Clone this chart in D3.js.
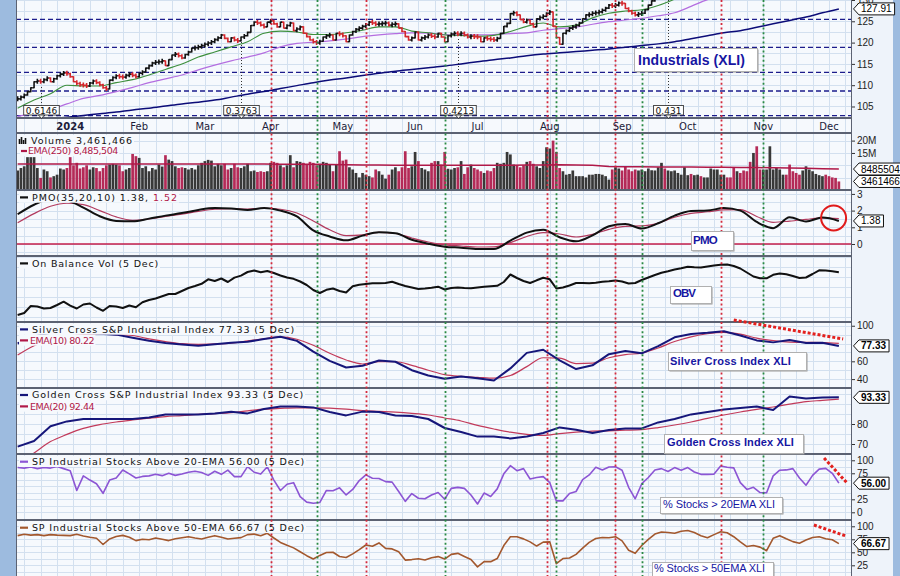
<!DOCTYPE html>
<html><head><meta charset="utf-8">
<script src="https://cdn.jsdelivr.net/npm/d3@7/dist/d3.min.js"></script>
<style>
html,body{margin:0;padding:0;background:#9dbbdf;}
svg{display:block;font-family:"DejaVu Sans",Verdana,sans-serif;}
</style></head><body>
<svg id="chart" width="900" height="576"></svg>
<script>
// ================= DATA (trading-day index 0 = 8 Dec 2023 ... 250 = 5 Dec 2024) =================
const monthLabels = ["2024","Feb","Mar","Apr","May","Jun","Jul","Aug","Sep","Oct","Nov","Dec"];
const monthIdx    = [16,37,57,77,99,121,140,162,184,204,227,247];
const redSignalIdx   = [77,106,161,182,214];
const greenSignalIdx = [91,130,164,190,227];
const priceTicks = [105,110,115,120,125,130];
const volTicks = [15,20];
const pmoTicks = [0,1,2,3];
const silverTicks = [40,60,100];
const goldenTicks = [70,80];
const pct20Ticks = [0,25,75,100];
const pct50Ticks = [25,50,75,100];
const priceLevels = [125.47,118.9,113.03,108.64,102.84];
const divIdx = [7,68,134,198];
const divLabels = ["0.6146","0.3763","0.4213","0.431"];

// daily closes XLI
const close = [
106.8,107.2,107.7,108.5,109.4,110.8,111.0,110.8,111.3,111.7,
110.8,111.5,112.2,112.6,112.9,112.7,112.0,110.8,110.4,110.1,
110.0,109.8,110.5,111.0,110.6,110.1,109.4,109.1,111.2,111.8,
112.2,112.0,111.9,112.3,112.6,112.3,112.0,112.8,113.1,114.0,
114.6,115.2,115.4,115.5,115.7,114.6,116.0,117.1,117.3,116.9,
116.4,117.2,117.8,118.7,118.8,119.0,119.3,119.6,119.9,120.2,
120.7,121.1,121.8,121.0,120.2,121.1,120.6,120.4,121.3,121.6,
122.4,124.0,124.8,124.6,124.1,123.7,124.8,125.1,124.4,123.7,
124.8,123.4,124.0,124.6,122.8,123.2,123.7,122.2,121.4,120.6,
120.2,119.9,120.3,121.3,121.6,121.8,120.6,122.2,122.0,121.6,
120.2,121.8,122.6,123.1,123.4,123.8,124.2,124.8,124.6,124.3,
124.4,124.5,124.6,124.1,124.3,124.4,123.4,122.6,121.4,120.6,
121.1,122.5,120.6,121.1,121.3,121.8,121.5,121.3,122.2,121.3,
120.2,121.6,122.0,122.2,122.0,122.2,121.8,121.3,121.5,121.4,
121.3,120.2,121.1,120.9,120.8,120.6,121.0,122.2,123.8,124.5,
126.8,127.0,126.5,125.4,124.8,125.3,124.4,123.7,125.6,125.9,
126.2,126.9,127.2,123.8,121.2,119.6,122.2,122.8,123.4,123.7,
124.0,124.6,125.6,126.5,126.6,126.9,127.0,127.2,127.6,128.1,
128.8,128.6,128.8,129.3,129.2,128.0,127.4,126.9,126.5,126.7,
126.9,127.7,128.8,129.8,130.6,131.2,131.5,131.0,132.4,132.8,
133.0,133.5,134.0,134.5,135.0,134.2,134.8,135.5,135.0,136.2,
136.5,137.4,138.2,138.6,139.2,139.5,138.8,138.2,137.4,137.8,
136.6,136.0,135.5,134.8,135.6,134.0,133.4,134.2,134.8,137.5,
138.5,139.6,140.8,141.5,140.2,139.6,139.0,138.5,138.0,139.2,
140.4,141.0,141.5,142.0,142.8,143.0,142.4,141.8,141.0,140.2,139.6];

// daily volume, millions
const volume = [
7.9,8.9,9.6,13.3,13.3,13.3,8.9,4.9,8.3,7.6,
5.1,5.6,6.2,8.7,8.3,8.9,13.3,10,11,8.7,
9.2,10,8.3,9.2,8.9,7.6,8.9,10,10.3,10.6,
10.3,10,7.6,8.3,8.9,14.6,13.7,13,8.9,9.6,
7.6,8.9,8.3,10.3,9.5,14.1,12.3,11.7,9.6,8.9,9.2,
8.9,8.3,8.9,8.3,10,11,11.7,12.2,11.9,9.6,
10.6,10,10.6,8.3,8.9,10.6,9.2,8.9,9.6,10.6,
7.6,7.9,7.3,7.6,7.3,7.6,11,11.4,11,10,
9.2,10,14.1,9.2,11.7,11.4,11,10.5,11.4,11,10,
10.6,11.4,11,10.3,7.6,10.3,15.7,11.9,12.3,9.2,
8.3,6.9,5.1,6.9,6.2,5.6,5.1,8.3,7.6,6.2,
4.6,6.2,8.3,9.2,7.6,9.2,15.7,8.9,9.6,15.4,
11.7,8.9,8.3,7.6,11,11.7,11.7,10.3,15.4,8.6,
8.3,8.9,9.2,11.7,6.5,9.2,10.3,8.9,8.3,7.6,
6.9,7.9,7.6,8.9,11,10.6,11,15.4,14.4,10.3,
10,9.2,10,11.4,11.7,10.6,9.6,8.9,11.7,17.3,
16.8,20,15.4,8.9,7.6,6.2,6.5,7.9,5.6,5.6,
5.6,5.1,6.2,6.2,6.5,6.5,6.2,5.6,4.2,8.3,
9.2,8.7,7.9,9.6,8.3,7.6,8.3,7.9,8.3,7.6,
8.7,8.0,7.9,9.2,11,8.7,7.9,7.6,7.9,6.9,6.2,
9.2,6,6.5,6,6.2,5.6,5.1,5.1,8.7,8.3,
8.3,6.2,6.2,5.1,5.1,8.9,7.6,6.9,7.9,7.6,
11.4,15,17.7,8.3,8.3,8.3,17.7,8.3,8.9,8.3,
6.2,6.2,10.3,7.6,6.9,6.2,7.9,9.6,8.3,7.6,
6.5,6,5.6,6.2,5.6,5.1,4.9,3.46];

// smooth series, every 5th trading day (0,5,...,250)
const ema20Price = [104.6,106.5,108.0,110.0,109.8,109.8,110.6,111.3,112.4,113.7,115.0,116.6,117.8,119.0,120.2,122.2,122.7,122.5,121.9,121.9,122.3,122.9,123.7,123.7,122.7,122.3,121.8,121.7,121.5,121.7,122.6,123.8,124.6,123.7,124.1,125.8,126.9,127.4,127.7,128.7,130.2,132.0,133.8,135.8,136.5,135.8,136.2,138.0,139.0,140.5,140.8];
const ma50Price  = [102.7,103.4,104.3,105.6,106.9,107.6,108.5,109.5,110.6,111.5,112.4,113.6,114.7,115.7,116.6,117.6,119.0,119.8,120.1,120.4,120.8,121.4,121.8,122.1,122.3,122.2,121.9,121.8,121.8,121.9,122.1,122.3,122.9,123.3,123.6,124.3,124.9,125.3,125.7,126.3,127.0,128.5,130.1,131.2,132.2,133.0,134.0,135.0,136.0,137.0,137.8];
const ma200Price = [101.4,101.8,102.1,102.5,102.9,103.3,103.7,104.2,104.6,105.1,105.6,106.0,106.5,107.2,107.9,108.5,109.2,109.9,110.6,111.2,111.7,112.3,112.8,113.3,113.7,114.1,114.5,115.0,115.5,116.0,116.4,116.9,117.3,117.6,117.9,118.2,118.5,118.9,119.3,119.7,120.2,120.9,121.6,122.3,122.8,123.6,124.4,125.2,126.0,127.0,127.91];
const volEma250  = [10.5,10.5,10.5,10.5,10.5,10.5,10.5,10.5,10.5,10.5,10.5,10.5,10.5,10.5,10.5,10.5,10.4,10.4,10.4,10.3,10.2,10.1,10.1,10.0,10.0,10.0,10.0,10.0,10.0,10.0,10.0,10.1,10.1,10.2,10.1,10.0,9.5,9.4,9.4,9.3,9.3,9.3,9.2,9.2,9.1,9.1,9.0,8.9,8.8,8.6,8.4855];
const pmo        = [1.78,2.35,2.7,2.6,2.18,1.66,1.38,1.36,1.52,1.70,1.85,2.04,2.15,2.13,2.04,2.15,2.0,1.65,0.82,0.45,0.22,0.5,0.70,0.65,0.25,0.02,-0.16,-0.22,-0.3,-0.3,0.2,0.68,0.85,0.4,0.16,0.52,1.06,1.2,0.93,1.24,1.70,1.97,2.0,2.15,2.0,1.32,0.95,1.6,1.35,1.58,1.38];
const pmoSignal  = [1.27,1.82,2.26,2.44,2.36,2.0,1.62,1.42,1.5,1.65,1.79,1.95,2.08,2.12,2.09,2.14,2.08,1.86,1.38,0.85,0.5,0.55,0.7,0.63,0.36,0.12,-0.05,-0.12,-0.18,-0.17,0.08,0.45,0.68,0.6,0.42,0.58,0.88,1.06,1.08,1.25,1.6,1.83,1.93,2.04,2.06,1.65,1.3,1.37,1.47,1.57,1.52];
const silverCross = [80,88,92,94,92,91,90,86.5,83,80.7,79,77.6,79.2,81,82,85,87.7,83,70.8,60.5,53,55,61,59.5,50,44,40.5,43,41,38.5,52,69.5,73,61,51.3,55.5,68,71.5,69,77,87,90.8,92,93.8,89,83.5,81.3,84,80.5,80.8,77.33];
const silverEma10 = [67,77.5,84,88,90,90.5,90,89,85.2,82.2,79.8,79.1,79.5,80.4,82.9,85.4,87.4,84.8,78,69,61.5,57,59.5,59.5,55.5,50,45,43,42,41,44,54,64,63.5,57.5,58,64,67.5,69.3,75,82.3,87.5,91,92.5,90.5,86,83.2,81.6,81.3,81.1,80.22];
const goldenCross = [68.7,71.5,78.9,81.3,82.5,82.5,82.5,82.5,83.3,84.8,84.8,84.8,85.2,86.1,85.3,87.5,88.7,88.7,88.3,86,84.3,86.2,86,84.2,84,82.5,78,76,73.7,73.7,72.8,73.7,75.5,78.3,77.1,75.5,77,77.8,77.8,80.8,82.5,84.8,86,87.3,88,88.7,87,93.7,92.8,93.3,93.33];
const goldenEma20 = [60,65.5,71.2,74.8,77.8,79.7,81,82,82.9,83.7,84.2,84.8,85.2,85.7,86.6,87.4,87.8,88.1,88.1,87.9,87.4,86.7,86.3,85.9,85.3,84.5,83,81.5,79.3,77.5,75.9,74.8,74.3,75.2,75.9,76.4,76.6,76.9,77.2,78.2,79.5,81,82.8,84.5,86,87.3,88.5,89.9,91.2,91.8,92.44];

// jagged series, every 2nd trading day (0,2,...,250)
const obv = [7,9,16,15.5,13.5,14,17,20.3,16.3,13.5,
17.5,18.5,14.5,11.2,16,15.5,14,16.5,14.8,19.7,
22,23.5,25.7,28,28,31,34,36,38.2,42.7,
41,43.5,40,44.4,46.4,50,51.5,49.8,51,49,
46.5,44.5,43.2,40.5,37,32,29,32.2,33.5,31,
29.5,35.7,37.2,38,38.7,38.7,39,40.2,38,36,
34.5,33,33.5,34.2,35.3,32.5,34,34.5,34,33.7,
34.5,35.2,35.7,36.2,40,47.5,44,41,39,41.7,
44.2,42.7,33.5,34.5,36.5,39,39,38.7,39.3,40.3,
40.7,41.5,40.5,38.5,39,42,44.5,47,49.2,50.7,
52.5,53.7,55.3,54.7,54.5,55.5,56.5,57.3,57.5,56,
53.5,49.5,45.5,43.7,43.7,47.2,48.5,47.7,46,44,
44.5,48,51.7,51.5,50.7,49.7];
const pctAbove20 = [86,85,87,84,86,85,88,84,80,42,
70,62,55,36.5,62,66,81.4,74,66,69,
70,73,70.5,75,71,73.5,77,79,76.5,71,
79,73,81,68.6,68.6,87.8,77,73.5,87.5,62,
42,54,57,30,19.5,17.3,19,42,41.5,47,
33.3,44,61,72,65.4,65,59,58,40,21,
36,27,26,33.3,38,25,46,48,46,33.3,
16,37,30.5,45,74,89.7,80,84,64,67,
68.6,57,22,22,36,40,63,71.8,86.5,81.4,
87,87.5,81,48,26,55,67,81.4,84,78.5,
86,81,86,77.5,73,73,73.5,89,86.5,85.5,
57,44,48,38,37.5,70,81,81.5,84,66,
52,71,83,84.5,75,56];
const pctAbove50 = [82,84.6,83,84,82,84,83,82.5,82,84.6,
81.5,79,77,65,75.6,80.5,82.5,79,72.5,75,
74,77.5,75,72.5,76,78,80,77.5,75.6,79,
82,79,75.6,77,78.2,84,85,82,86.5,77.5,
69,63.5,58.5,51,43.5,37,44,49.5,50,42,
40,47,55,64,61.5,68,57.5,56.5,51,35,
36,37.5,35.3,39.5,41.7,37,46,48,42,36,
22,32,32,38,63,80,80,75.8,70,62,
69.5,70,28,38,39,46,58,69,76.5,78.5,
78,80,72,54,48,63,75,85,89,88,
86.5,90.5,92,88,82,78,84,89.5,87.5,80,
70,61,63,60,53,76.9,82,76,70.5,67.5,
73.5,78.5,80,76,74,66.67];

// ================= LAYOUT =================
const idx5 = d3.range(0, 251, 5), idx2 = d3.range(0, 251, 2);
[ema20Price,ma50Price,ma200Price,volEma250,pmo,pmoSignal,silverCross,silverEma10,goldenCross,goldenEma20].forEach((a,k)=>{ if(a.length!==idx5.length) throw new Error("len5 "+k+" "+a.length); });
[obv,pctAbove20,pctAbove50].forEach((a,k)=>{ if(a.length!==idx2.length) throw new Error("len2 "+k+" "+a.length); });
if (close.length!==251||volume.length!==251) throw new Error("daily "+close.length+" "+volume.length);

const PLOT_BG="#f6f9fd", GRID="#d3e0ef", FRAME="#5c6272";
const X0=16, X1=852;
const x = d3.scaleLinear().domain([-0.5, 254]).range([X0, X1]);
const weekIdx = d3.range(2, 254, 5);

const svg = d3.select("#chart");
svg.append("rect").attr("width",900).attr("height",576).attr("fill","#9dbbdf");
svg.append("rect").attr("x",X0).attr("y",0).attr("width",893-X0).attr("height",576).attr("fill","#eef3fa");
const defs = svg.append("defs");
const base = svg.append("g"), sigL = svg.append("g"), topL = svg.append("g");

const P = {
  price:{top:-30,bottom:118,domain:[102.3,137.04],hgrid:d3.range(102.5,137.6,2.5)},
  band:{top:118,bottom:133},
  vol:{top:133,bottom:190,domain:[0,23.08],hgrid:[5,10,15,20]},
  pmo:{top:190,bottom:256,domain:[-0.719,3.234],hgrid:d3.range(-0.5,3.3,0.5)},
  obv:{top:256,bottom:322,domain:[0,66],hgrid:d3.range(5,66,10)},
  silver:{top:322,bottom:388,domain:[30,104.2],hgrid:d3.range(40,101,10)},
  golden:{top:388,bottom:454,domain:[65,98],hgrid:d3.range(70,96,5)},
  p20:{top:454,bottom:520,domain:[-14.8,112.1],hgrid:d3.range(0,101,12.5)},
  p50:{top:520,bottom:586,domain:[-14.8,112.1],hgrid:d3.range(0,101,12.5)}
};
const px = v => Math.round(v)+0.5;

Object.entries(P).forEach(([k,p])=>{
  const id="clip_"+k;
  defs.append("clipPath").attr("id",id).append("rect").attr("x",X0).attr("y",p.top).attr("width",X1-X0).attr("height",p.bottom-p.top);
  const g = base.append("g");
  g.append("rect").attr("x",X0).attr("y",p.top).attr("width",X1-X0).attr("height",p.bottom-p.top).attr("fill",PLOT_BG);
  const c = g.append("g").attr("clip-path",`url(#${id})`);
  c.selectAll("line.vg").data(weekIdx).join("line").attr("class","vg")
    .attr("x1",d=>px(x(d))).attr("x2",d=>px(x(d))).attr("y1",p.top).attr("y2",p.bottom).attr("stroke",GRID);
  if (p.domain){
    p.y = d3.scaleLinear().domain(p.domain).range([p.bottom,p.top]);
    c.selectAll("line.hg").data(p.hgrid).join("line").attr("class","hg")
      .attr("x1",X0).attr("x2",X1).attr("y1",d=>px(p.y(d))).attr("y2",d=>px(p.y(d))).attr("stroke",GRID);
  }
  p.g = c.append("g");
  p.legendBg = g.append("g");
});

function lineOf(p, idx, vals, curve){
  return d3.line().x((d,j)=>x(idx[j])).y(d=>p.y(d)).curve(curve||d3.curveMonotoneX)(vals);
}
function drawLine(p, idx, vals, color, w, curve){
  p.g.append("path").attr("d",lineOf(p,idx,vals,curve)).attr("fill","none").attr("stroke",color).attr("stroke-width",w).attr("stroke-linejoin","round");
}

// ---------- PRICE ----------
const pp = P.price;
priceLevels.forEach(v=> pp.g.append("line").attr("x1",X0).attr("x2",X1).attr("y1",pp.y(v)).attr("y2",pp.y(v))
  .attr("stroke","#1c1c8c").attr("stroke-width",1.3).attr("stroke-dasharray","5,3"));
drawLine(pp, idx5, ma200Price, "#0c0c78", 1.5);
drawLine(pp, idx5, ma50Price, "#b46ee0", 1.2);
drawLine(pp, idx5, ema20Price, "#3d8f3d", 1.1);
divIdx.forEach((d,i)=>{
  const cx = px(x(d));
  const hi = pp.y(Math.max(close[d], close[d-1]));
  pp.g.append("line").attr("x1",cx).attr("x2",cx).attr("y1",106).attr("y2",hi+4)
    .attr("stroke","#333").attr("stroke-width",1).attr("stroke-dasharray","1,2");
});
close.forEach((c,i)=>{
  const o = i ? close[i-1] : c;
  const up = c >= o;
  let y1 = pp.y(Math.max(o,c)), y2 = pp.y(Math.min(o,c));
  if (y2-y1 < 4){ const m=(y1+y2)/2; y1=m-2; y2=m+2; }
  const xc = x(i);
  pp.g.append("path").attr("d",`M${xc},${y1-0.5}V${y2+0.5}M${xc-1.7},${pp.y(o)}H${xc}M${xc},${pp.y(c)}H${xc+1.7}`)
    .attr("stroke", up?"#111":"#d4262c").attr("stroke-width",1.6).attr("fill","none");
});

// ---------- VOLUME ----------
const pv = P.vol;
volume.forEach((v,i)=>{
  const up = i===0 || close[i] >= close[i-1];
  pv.g.append("rect").attr("x",x(i)-1.35).attr("width",2.7).attr("y",pv.y(v)).attr("height",pv.y(0)-pv.y(v))
    .attr("fill", up?"#383838":"#b42a57");
});
drawLine(pv, idx5, volEma250, "#b01848", 1.5, d3.curveLinear);

// ---------- PMO ----------
const pm = P.pmo;
pm.g.append("line").attr("x1",X0).attr("x2",X1).attr("y1",pm.y(0)).attr("y2",pm.y(0)).attr("stroke","#c41e4a").attr("stroke-width",1.5);
drawLine(pm, idx5, pmoSignal, "#b23a5e", 1.2);
drawLine(pm, idx5, pmo, "#111", 2);

// ---------- OBV ----------
drawLine(P.obv, idx2, obv, "#111", 2, d3.curveLinear);

// ---------- SILVER / GOLDEN ----------
drawLine(P.silver, idx5, silverEma10, "#c23a5a", 1.2);
drawLine(P.silver, idx5, silverCross, "#16167a", 2, d3.curveLinear);
drawLine(P.golden, idx5, goldenEma20, "#c23a5a", 1.2);
drawLine(P.golden, idx5, goldenCross, "#16167a", 2, d3.curveLinear);

// ---------- % ABOVE ----------
drawLine(P.p20, idx2, pctAbove20, "#8c55d4", 1.6, d3.curveLinear);
drawLine(P.p50, idx2, pctAbove50, "#a3582e", 1.6, d3.curveLinear);

// ---------- FRAMES + SIGNAL LINES ----------
Object.entries(P).forEach(([k,p])=>{
  sigL.append("rect").attr("x",X0+0.5).attr("y",p.top+0.5).attr("width",X1-X0-1).attr("height",p.bottom-p.top-1)
    .attr("fill","none").attr("stroke",FRAME).attr("stroke-width",1);
});
redSignalIdx.forEach(i=> sigL.append("line").attr("x1",px(x(i))).attr("x2",px(x(i))).attr("y1",0).attr("y2",576)
  .attr("stroke","#d42a3c").attr("stroke-width",1.8).attr("stroke-dasharray","2,2.6"));
greenSignalIdx.forEach(i=> sigL.append("line").attr("x1",px(x(i))).attr("x2",px(x(i))).attr("y1",0).attr("y2",576)
  .attr("stroke","#2a8a44").attr("stroke-width",1.8).attr("stroke-dasharray","2,2.6"));

// ---------- LEGENDS ----------
function legend(p, y, dashColor, parts, width, tx, d0, d1){
  tx = tx ?? 32; d0 = d0 ?? 20; d1 = d1 ?? 28;
  const t = topL.append("text").attr("x",tx).attr("y",y).attr("font-size",9.5).attr("fill","#111");
  parts.forEach(pt=> t.append("tspan").attr("fill",pt.c||"#111").text(pt.t));
  const nat = t.node().getComputedTextLength();
  const n = parts.map(q=>q.t).join("").length;
  t.attr("letter-spacing", ((width-nat)/n).toFixed(3));
  const bb = t.node().getBBox();
  p.legendBg.append("rect").attr("x",d0-1).attr("y",bb.y).attr("width",bb.x+bb.width-d0+2).attr("height",bb.height).attr("fill",PLOT_BG);
  if (dashColor) topL.append("line").attr("x1",d0).attr("x2",d1).attr("y1",y-3.3).attr("y2",y-3.3).attr("stroke",dashColor).attr("stroke-width",2.2);
}
const CR="#b01848";
legend(P.vol, 144, null, [{t:"Volume 3,461,466"}], 102, 31, 18, 27);
[[5,19.5],[7,21.5],[4,23.5],[6,25.5]].forEach(b=> topL.append("rect").attr("x",b[1]-0.8).attr("y",144-b[0]).attr("width",1.6).attr("height",b[0]).attr("fill","#111"));
legend(P.vol, 154.3, CR, [{t:"EMA(250) 8,485,504",c:CR}], 90, 28, 21, 27);
legend(P.pmo, 200.7, "#111", [{t:"PMO(35,20,10) 1.38, "},{t:"1.52",c:CR}], 146);
legend(P.obv, 266.7, "#111", [{t:"On Balance Vol (5 Dec)"}], 127);
legend(P.silver, 332.7, "#16167a", [{t:"Silver Cross S&P Industrial Index 77.33 (5 Dec)"}], 263);
legend(P.silver, 343.7, CR, [{t:"EMA(10) 80.22",c:CR}], 64, 30);
legend(P.golden, 398.3, "#16167a", [{t:"Golden Cross S&P Industrial Index 93.33 (5 Dec)"}], 272);
legend(P.golden, 409.7, CR, [{t:"EMA(20) 92.44",c:CR}], 64, 30);
legend(P.p20, 465, "#8c55d4", [{t:"SP Industrial Stocks Above 20-EMA 56.00 (5 Dec)"}], 273);
legend(P.p50, 531, "#a3582e", [{t:"SP Industrial Stocks Above 50-EMA 66.67 (5 Dec)"}], 273);

// ---------- MONTH LABELS ----------
monthIdx.forEach((d,i)=> topL.append("text").attr("x",x(d)).attr("y",130).attr("text-anchor","middle")
  .attr("font-size",10).attr("font-weight",i===0?"bold":"normal").attr("fill","#1c1c3a").text(monthLabels[i]));

// ---------- RIGHT AXES ----------
function rightAxis(p, ticks, fmt){
  const a = topL.append("g").attr("transform",`translate(${X1},0)`)
    .call(d3.axisRight(p.y).tickValues(ticks).tickSize(3).tickPadding(2).tickFormat(fmt||(d=>d)));
  a.select(".domain").remove();
  a.attr("font-family","Liberation Sans, Arial, sans-serif").attr("font-size",10);
  a.selectAll("text").attr("fill","#222");
  a.selectAll("line").attr("stroke","#333");
}
rightAxis(P.price, priceTicks);
rightAxis(P.vol, volTicks, d=>d+"M");
rightAxis(P.pmo, pmoTicks);
rightAxis(P.silver, silverTicks);
rightAxis(P.golden, goldenTicks);
rightAxis(P.p20, pct20Ticks);
rightAxis(P.p50, pct50Ticks);

// ---------- VALUE TAGS ----------
function tag(yc, text, bold){
  const g = topL.append("g");
  const t = g.append("text").attr("x",861).attr("y",yc+3.5).attr("font-family","Liberation Sans, Arial, sans-serif")
    .attr("font-size",10).attr("font-weight",bold?"bold":"normal").attr("fill","#000").text(text);
  const w = t.node().getComputedTextLength();
  g.insert("path","text").attr("d",`M853.5,${yc}L859,${yc-6}H${864+w}V${yc+6}H859Z`).attr("fill","#fff").attr("stroke","#111").attr("stroke-width",1);
}
tag(P.price.y(ma200Price[ma200Price.length-1]), "127.91");
tag(P.vol.y(volEma250[volEma250.length-1]), "8485504");
tag(P.vol.y(volume[volume.length-1]), "3461466");
tag(P.pmo.y(pmo[pmo.length-1]), "1.38");
tag(P.silver.y(silverCross[silverCross.length-1]), "77.33", true);
tag(P.golden.y(goldenCross[goldenCross.length-1]), "93.33", true);
tag(P.p20.y(pctAbove20[pctAbove20.length-1]), "56.00", true);
tag(P.p50.y(pctAbove50[pctAbove50.length-1]), "66.67", true);

// ---------- DIVIDEND MARKERS ----------
divIdx.forEach((d,i)=>{
  const cx = px(x(d));
  const t = topL.append("text").attr("x",cx).attr("y",113.5).attr("text-anchor","middle").attr("font-size",9).attr("fill","#111").text(divLabels[i]);
  const w = t.node().getComputedTextLength();
  topL.insert("rect",()=>t.node()).attr("x",cx-w/2-2).attr("y",105.5).attr("width",w+4).attr("height",9.5).attr("fill","#fff").attr("stroke","#222").attr("stroke-width",0.8);
  topL.append("path").attr("d",`M${cx-3},${115}L${cx+3},${115}L${cx},${118.5}Z`).attr("fill","#fff").attr("stroke","#222").attr("stroke-width",0.8);
});

// ---------- ANNOTATIONS ----------
function note(b){
  topL.append("rect").attr("x",b.x0+1.5).attr("y",b.y0+1.5).attr("width",b.x1-b.x0).attr("height",b.y1-b.y0).attr("fill","#9a9a9a");
  topL.append("rect").attr("x",b.x0+0.5).attr("y",b.y0+0.5).attr("width",b.x1-b.x0).attr("height",b.y1-b.y0).attr("fill","#fff").attr("stroke","#b0b0b0");
  const t = topL.append("text").attr("x",b.tx).attr("y",b.base).attr("font-family","Liberation Sans, Arial, sans-serif")
    .attr("font-size",b.fs).attr("font-weight",b.bold?"bold":"normal").attr("fill","#1616a2").text(b.t);
  const nat = t.node().getComputedTextLength();
  t.attr("letter-spacing", ((b.tw-nat)/b.t.length).toFixed(3));
}
note({t:"Industrials (XLI)", x0:634,y0:48,x1:757,y1:71, tx:638, tw:107, base:65, fs:14, bold:true});
note({t:"PMO", x0:691,y0:231,x1:733,y1:250, tx:693, tw:24, base:244, fs:11.5, bold:true});
note({t:"OBV", x0:670,y0:286,x1:711,y1:303, tx:673, tw:22, base:297, fs:11.5, bold:true});
note({t:"Silver Cross Index XLI", x0:668,y0:352,x1:806,y1:370, tx:670, tw:121, base:364.5, fs:11, bold:true});
note({t:"Golden Cross Index XLI", x0:664,y0:434,x1:803,y1:453, tx:667, tw:127, base:446, fs:11, bold:true});
note({t:"% Stocks > 20EMA XLI", x0:660,y0:497,x1:782,y1:513, tx:663, tw:112, base:508, fs:11, bold:false});
note({t:"% Stocks > 50EMA XLI", x0:652,y0:562,x1:773,y1:580, tx:654, tw:111, base:572, fs:11, bold:false});

// red trend annotations (index, value)
const trendMarks = [
  {p:"silver", a:[218,106.4], b:[251.3,85.1]},
  {p:"p20",    a:[245.5,104.4], b:[252.5,56.3]},
  {p:"p50",    a:[242.4,102.5], b:[252.2,81.3]}
];
trendMarks.forEach(m=>{
  const p = P[m.p];
  topL.append("line").attr("x1",x(m.a[0])).attr("y1",p.y(m.a[1])).attr("x2",x(m.b[0])).attr("y2",p.y(m.b[1]))
    .attr("stroke","#e3211e").attr("stroke-width",3).attr("stroke-dasharray","3,2");
});
topL.append("circle").attr("cx",x(248.4)).attr("cy",P.pmo.y(1.56)).attr("r",12.5).attr("fill","none").attr("stroke","#e01a1a").attr("stroke-width",2);
</script>
</body></html>
